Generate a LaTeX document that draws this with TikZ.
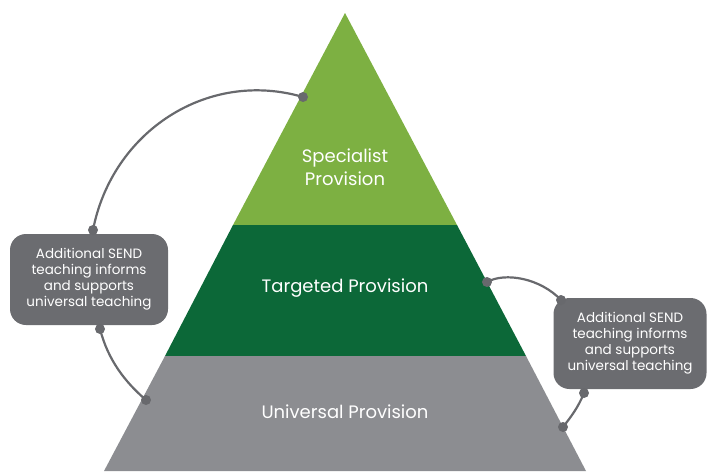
\documentclass[tikz,border=0pt]{standalone}
\usepackage{fontspec}
\setmainfont{Poppins}
\definecolor{lightgreen}{HTML}{7DB042}
\definecolor{darkgreen}{HTML}{0C6838}
\definecolor{pgrey}{HTML}{8C8D91}
\definecolor{boxgrey}{HTML}{6B6C70}
\definecolor{linegrey}{HTML}{68696D}
\begin{document}
\begin{tikzpicture}[x=1pt,y=-1pt,
  infobox/.style={fill=boxgrey, rounded corners=16pt, text=white, align=center,
    font=\fontsize{13.5}{16}\selectfont, inner sep=0pt},
  tiertext/.style={text=white, align=center, font=\fontsize{18}{23}\selectfont},
  link/.style={draw=linegrey, line width=2.2pt},
  dot/.style={circle, fill=linegrey, inner sep=0pt, minimum size=10pt}]
\useasboundingbox (0,0) rectangle (708,471);
% pyramid tiers
\fill[lightgreen] (345,13) -- (457,225) -- (233,225) -- cycle;
\fill[darkgreen] (233,225) -- (457,225) -- (526,356) -- (165,356) -- cycle;
\fill[pgrey] (165,356) -- (526,356) -- (586,471) -- (104,471) -- cycle;
\node[tiertext] (spec) at (345,167) {Specialist\\Provision};
\node[tiertext] (targ) at (345,288) {Targeted Provision};
\node[tiertext] (univ) at (345,412) {Universal Provision};
% boxes
\node[infobox, minimum width=158pt, minimum height=91pt] (lb) at (89,279.5)
  {Additional SEND\\teaching informs\\and supports\\universal teaching};
\node[infobox, minimum width=153pt, minimum height=91pt] (rb) at (630,343.5)
  {Additional SEND\\teaching informs\\and supports\\universal teaching};
% connector end points
\coordinate (l1) at (93,230);
\coordinate (l2) at (303,97);
\coordinate (l3) at (100,329);
\coordinate (l4) at (146,400);
\coordinate (r1) at (487,282);
\coordinate (r2) at (561,300);
\coordinate (r3) at (584,393);
\coordinate (r4) at (563,427);
% connectors
\draw[link] (l1) .. controls (112,132) and (207,69) .. (l2);
\draw[link] (l3) .. controls (108,360) and (125,382) .. (l4);
\draw[link] (r1) .. controls (505,272) and (540,278) .. (r2);
\draw[link] (r3) .. controls (578,408) and (570,418) .. (r4);
\foreach \p in {l1,l2,l3,l4,r1,r2,r3,r4} \node[dot] at (\p) {};
\end{tikzpicture}
\end{document}
